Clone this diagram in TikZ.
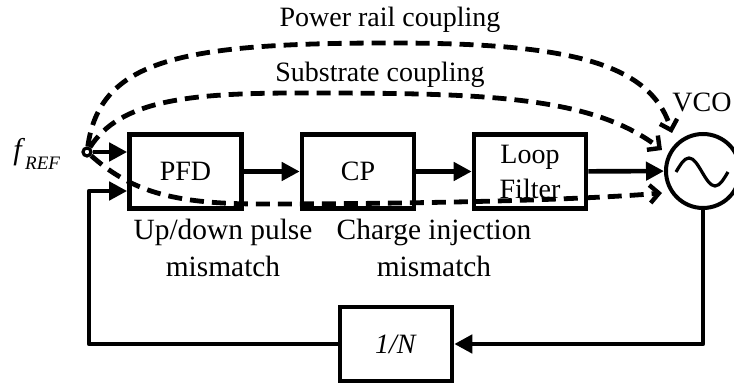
\documentclass[tikz,border=0pt]{standalone}
\usepackage{fontspec}
\setmainfont{Liberation Serif}
\usetikzlibrary{arrows.meta}

\begin{document}
\begin{tikzpicture}[x=0.5pt,y=-0.5pt,
  every node/.style={font=\fontsize{14}{17.5}\selectfont},
  blk/.style={draw,line width=2.3pt,minimum width=56pt,minimum height=37pt,inner sep=0pt,align=center},
  sig/.style={line width=2.3pt,line join=round,-{Triangle[length=9pt,width=9pt]}},
  coupling/.style={line width=2.4pt,dash pattern=on 7pt off 4pt,-{Straight Barb[length=4.5pt,width=9pt,line width=2.2pt]}},
  note/.style={align=center,inner sep=0pt,font=\fontsize{14.7}{18.5}\selectfont}]
\useasboundingbox (0,0) rectangle (734,383);
% loop blocks
\node[blk] (pfd) at (185.5,171.5) {PFD};
\node[blk] (cp) at (358,171.5) {CP};
\node[blk] (lf) at (530,171.5) {Loop\\Filter};
\node[circle,draw,line width=2pt,minimum size=37pt] (vco) at (703,171) {};
\node[blk] (div) at (396,344) {\textit{1/N}};
\node[circle,draw,line width=1.6pt,minimum size=4pt,inner sep=0pt] (ref) at (87,152) {};
\draw[line width=1.6pt] (676,172) sin (689,158) cos (702,172) sin (715,186) cos (728,172);
% labels
\node[anchor=base west,inner sep=0pt] (reflbl) at (13,160) {\fontsize{15}{15}\selectfont\textit{f}\raisebox{-5pt}{\fontsize{9.5}{9.5}\selectfont\textit{REF}}};
\node[anchor=base] (vcolbl) at (702,112) {VCO};
\node[anchor=base] (pwrlbl) at (390,27) {Power rail coupling};
\node[anchor=base] (sublbl) at (380,82) {Substrate coupling};
\node[note,anchor=north] (pfdlbl) at (223,219) {Up/down pulse\\mismatch};
\node[note,anchor=north] (cplbl) at (434,219) {Charge injection\\mismatch};
% forward path and feedback
\draw[sig] (ref) -- (ref -| pfd.west);
\draw[sig] (pfd) -- (cp);
\draw[sig] (cp) -- (lf);
\draw[sig] (lf) -- (vco);
\draw[sig] (vco.south) |- (div.east);
\coordinate (fbup) at (89,191);
\draw[sig] (div.west) -| (fbup) -- (fbup -| pfd.west);
% coupling paths
\coordinate (prtip) at (672,133);
\coordinate (subtip) at (662,150);
\coordinate (bottip) at (662,193);
\draw[coupling] (ref) .. controls (100,60) and (180,43) .. (390,43) .. controls (560,43) and (650,60) .. (prtip);
\draw[coupling] (ref) .. controls (120,100) and (190,93) .. (300,93) .. controls (480,93) and (590,95) .. (subtip);
\draw[coupling] (ref) .. controls (130,190) and (170,204) .. (260,204) .. controls (420,204) and (580,200) .. (bottip);
\end{tikzpicture}
\end{document}
